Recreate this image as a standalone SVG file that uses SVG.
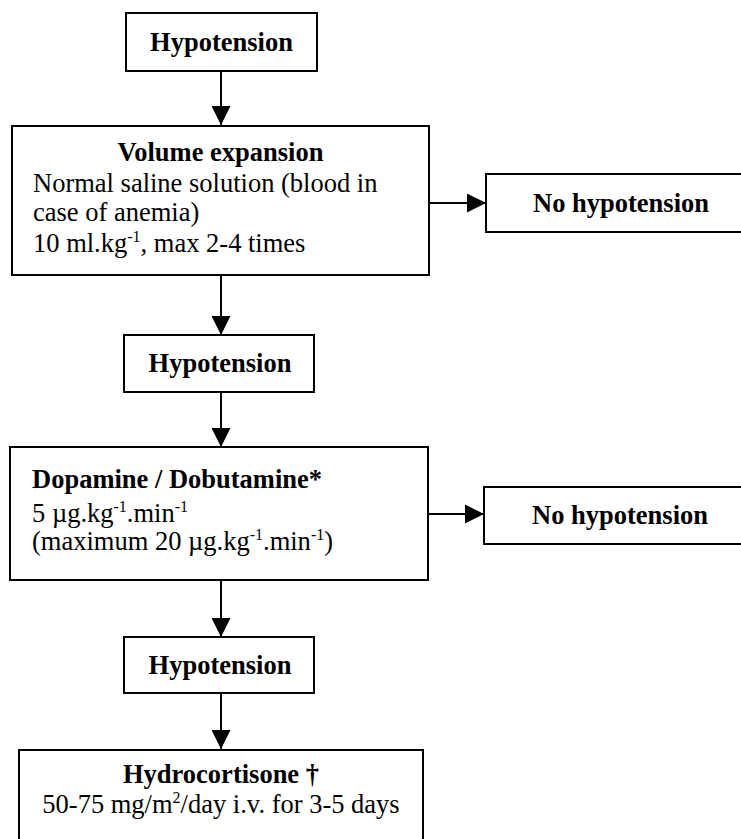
<svg xmlns="http://www.w3.org/2000/svg" width="741" height="839" viewBox="0 0 741 839">
<style>
.box{fill:#fff;stroke:#000;stroke-width:2}
.t{font-family:"Liberation Serif","Times New Roman",serif;font-size:26.5px;fill:#000}
.b{font-weight:bold}
.c{text-anchor:middle}
.sup{font-size:16px}
.conn{stroke:#000;stroke-width:2;fill:none}
</style>
<defs>
<marker id="ah" markerWidth="19" markerHeight="19" refX="19" refY="9.5" orient="auto" markerUnits="userSpaceOnUse" viewBox="0 0 19 19">
<path d="M0,0 L19,9.5 L0,19 Z" fill="#000"/>
</marker>
</defs>
<rect width="741" height="839" fill="#fff"/>
<g id="connectors">
<line class="conn" x1="221" y1="71" x2="221" y2="125" marker-end="url(#ah)"/>
<line class="conn" x1="221" y1="276" x2="221" y2="335" marker-end="url(#ah)"/>
<line class="conn" x1="221" y1="392" x2="221" y2="447" marker-end="url(#ah)"/>
<line class="conn" x1="221" y1="581" x2="221" y2="637" marker-end="url(#ah)"/>
<line class="conn" x1="221" y1="693" x2="221" y2="749" marker-end="url(#ah)"/>
<line class="conn" x1="429" y1="203" x2="486" y2="203" marker-end="url(#ah)"/>
<line class="conn" x1="428" y1="514" x2="484" y2="514" marker-end="url(#ah)"/>
</g>
<g id="hyp1">
<rect class="box" x="126" y="13" width="191" height="58"/>
<text class="t b c" x="221.5" y="51">Hypotension</text>
</g>
<g id="volume">
<rect class="box" x="12" y="126" width="417" height="149"/>
<text class="t b c" x="220.5" y="161">Volume expansion</text>
<text class="t" x="33" y="192">Normal saline solution (blood in</text>
<text class="t" x="33" y="221">case of anemia)</text>
<text class="t" x="33" y="252">10 ml.kg<tspan class="sup" dy="-10">-1</tspan><tspan dy="10">, max 2-4 times</tspan></text>
</g>
<g id="nohyp1">
<rect class="box" x="486" y="174" width="260" height="58"/>
<text class="t b" x="533" y="212">No hypotension</text>
</g>
<g id="hyp2">
<rect class="box" x="124" y="335" width="190" height="57"/>
<text class="t b c" x="220" y="372">Hypotension</text>
</g>
<g id="dopamine">
<rect class="box" x="10" y="447" width="418" height="133"/>
<text class="t b" x="32" y="488">Dopamine / Dobutamine*</text>
<text class="t" x="32" y="522">5 µg.kg<tspan class="sup" dy="-10">-1</tspan><tspan dy="10">.min</tspan><tspan class="sup" dy="-10">-1</tspan></text>
<text class="t" x="32" y="550">(maximum 20 µg.kg<tspan class="sup" dy="-10">-1</tspan><tspan dy="10">.min</tspan><tspan class="sup" dy="-10">-1</tspan><tspan dy="10">)</tspan></text>
</g>
<g id="nohyp2">
<rect class="box" x="484" y="487" width="262" height="57"/>
<text class="t b" x="532" y="524">No hypotension</text>
</g>
<g id="hyp3">
<rect class="box" x="124" y="637" width="190" height="56"/>
<text class="t b c" x="220" y="674">Hypotension</text>
</g>
<g id="hydro">
<rect class="box" x="19" y="750" width="404" height="100"/>
<text class="t b c" x="221" y="783">Hydrocortisone †</text>
<text class="t c" x="221" y="813">50-75 mg/m<tspan class="sup" dy="-10">2</tspan><tspan dy="10">/day i.v. for 3-5 days</tspan></text>
</g>
</svg>
